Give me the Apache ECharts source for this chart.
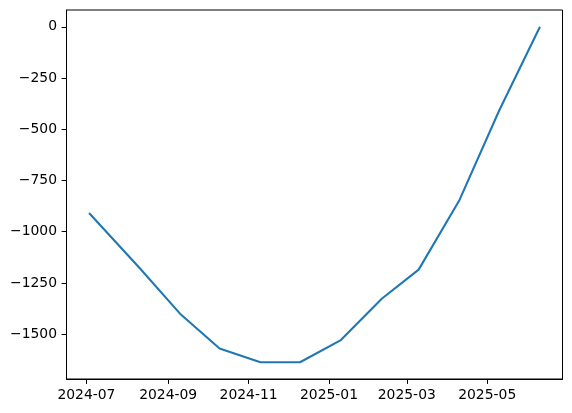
<!DOCTYPE html>
<html>
<head>
<meta charset="utf-8">
<script src="https://cdn.jsdelivr.net/npm/echarts@6/dist/echarts.min.js"></script>
<style>
  html, body { margin: 0; padding: 0; background: #fff; }
  #chart { width: 572px; height: 413px; }
</style>
</head>
<body>
<div id="chart"></div>
<script>
// values
const dates = ['2024-07-03', '2024-08-10', '2024-09-10', '2024-10-10', '2024-11-10', '2024-12-10',
  '2025-01-10', '2025-02-10', '2025-03-10', '2025-04-10', '2025-05-10', '2025-06-10']
const values = [-909, -1175, -1400, -1570, -1637, -1637, -1529, -1327, -1185, -845, -410, 0]
const xTickLabels = ['2024-07', '2024-09', '2024-11', '2025-01', '2025-03', '2025-05']
const yTicks = [0, -250, -500, -750, -1000, -1250, -1500]

const toTs = s => {
  const p = s.split('-').map(Number)
  return Date.UTC(p[0], p[1] - 1, p[2] || 1)
}

const xs = dates.map(toTs)
const xSpan = xs[xs.length - 1] - xs[0]
const xMin = xs[0] - xSpan * 0.05
const xMax = xs[xs.length - 1] + xSpan * 0.05
const yLo = Math.min(...values), yHi = Math.max(...values)
const yMin = yLo - (yHi - yLo) * 0.05
const yMax = yHi + (yHi - yLo) * 0.05

const pad = n => (n < 10 ? '0' : '') + n
const fmtMonth = v => { const d = new Date(v); return d.getUTCFullYear() + '-' + pad(d.getUTCMonth() + 1) }
const fmtNum = v => String(v).replace('-', '\u2212')

const font = { fontFamily: 'DejaVu Sans', fontSize: 13.9, color: '#000' }

const chart = echarts.init(document.getElementById('chart'))
chart.setOption({
  animation: false,
  grid: {
    left: 66.5, right: 9.5, top: 10, bottom: 34,
    show: true, borderColor: '#000', borderWidth: 1, backgroundColor: '#fff',
  },
  xAxis: {
    type: 'value',
    min: xMin,
    max: xMax,
    axisLine: { show: true, onZero: false, lineStyle: { color: '#000', width: 1 } },
    axisTick: { show: true, length: 4.9, lineStyle: { color: '#000', width: 1 }, customValues: xTickLabels.map(toTs) },
    axisLabel: { ...font, margin: 9.5, formatter: fmtMonth, customValues: xTickLabels.map(toTs) },
    splitLine: { show: false },
  },
  yAxis: {
    type: 'value',
    min: yMin,
    max: yMax,
    axisLine: { show: true, onZero: false, lineStyle: { color: '#000', width: 1 } },
    axisTick: { show: true, length: 4.9, lineStyle: { color: '#000', width: 1 }, customValues: yTicks },
    axisLabel: { ...font, margin: 9.5, formatter: fmtNum, customValues: yTicks },
    splitLine: { show: false },
  },
  series: [{
    type: 'line',
    data: xs.map((x, i) => [x, values[i]]),
    symbol: 'none',
    lineStyle: { color: '#1f77b4', width: 2.08 },
  }],
})
</script>
</body>
</html>
